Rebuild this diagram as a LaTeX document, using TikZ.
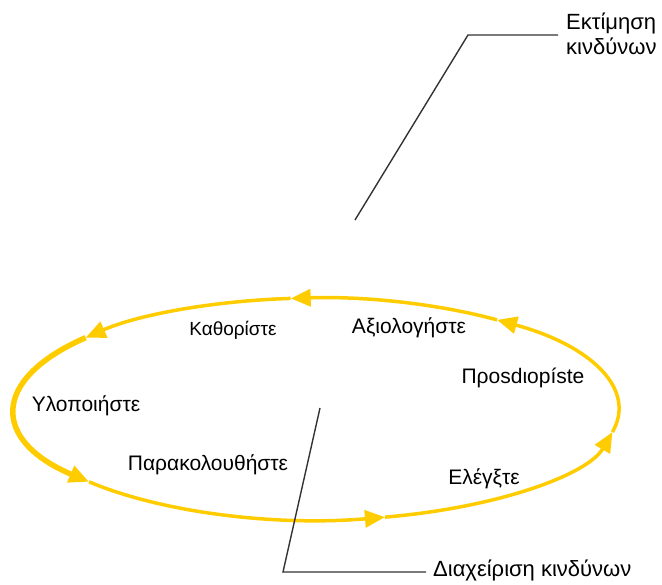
\documentclass[tikz,border=0pt]{standalone}
\usepackage{fontspec}
\setmainfont{Liberation Sans}
\usetikzlibrary{arrows.meta,calc}
\definecolor{cycleyellow}{HTML}{FFCC00}
\definecolor{leadergray}{HTML}{333333}
\begin{document}
\begin{tikzpicture}[x=1pt,y=1pt,
  seg/.style={draw=cycleyellow, line width=3.5pt,
    -{Triangle[length=20pt,width=17pt,fill=cycleyellow]}},
  thickseg/.style={seg, line width=5.5pt},
  leader/.style={draw=leadergray, line width=1.4pt},
  lbl/.style={inner sep=0pt, font=\fontsize{21}{24}\selectfont},
  smalllbl/.style={lbl, font=\fontsize{19}{22}\selectfont},
  callout/.style={inner sep=0pt, anchor=base west, align=left,
    font=\fontsize{22}{25}\selectfont}]
\useasboundingbox (0,0) rectangle (662,585);

% cycle: ellipse centred at (317,176), radii 302 x 111, split into six arrowed arcs
\def\rx{302}\def\ry{111}
\coordinate (c) at (317,176);
\foreach \n/\a in {p1/53.4, p2/95, p3/140, p4/221, p5/283, p6/348}
  \coordinate (\n) at ($(c)+({\rx*cos(\a)},{\ry*sin(\a)})$);
\draw[seg]      (p1) arc[start angle=53.4, end angle=95,  x radius=\rx, y radius=\ry];
\draw[seg]      (p2) arc[start angle=95,   end angle=140, x radius=\rx, y radius=\ry];
\draw[thickseg] (p3) arc[start angle=140,  end angle=221, x radius=\rx, y radius=\ry];
\draw[seg]      (p4) arc[start angle=221,  end angle=283, x radius=\rx, y radius=\ry];
\draw[seg]      (p5) arc[start angle=283,  end angle=348, x radius=\rx, y radius=\ry];
\draw[seg]      (p6) arc[start angle=348,  end angle=413.4, x radius=\rx, y radius=\ry];

% step labels
\node[smalllbl] (define)  at (233,255) {Καθορίστε};
\node[lbl]      (assess)  at (409,257) {Αξιολογήστε};
\node[lbl]      (specify) at (523,207) {Προsdιopíste};
\node[lbl]      (impl)    at (86,179)  {Υλοποιήστε};
\node[lbl]      (monitor) at (208,120) {Παρακολουθήστε};
\node[lbl]      (control) at (484,106) {Ελέγξτε};

% callouts with leader lines (base anchor sits on the last line)
\node[callout] (riskassess) at (566,530) {Εκτίμηση\\κινδύνων};
\node[callout] (riskmgmt)   at (433,8)   {Διαχείριση κινδύνων};
\coordinate (a0) at (355,365);
\coordinate (a1) at (468,550);
\coordinate (a2) at (558,550);
\coordinate (b0) at (320,177);
\coordinate (b1) at (283,13);
\coordinate (b2) at (426,13);
\draw[leader] (a0) -- (a1) -- (a2);
\draw[leader] (b0) -- (b1) -- (b2);
\end{tikzpicture}
\end{document}
